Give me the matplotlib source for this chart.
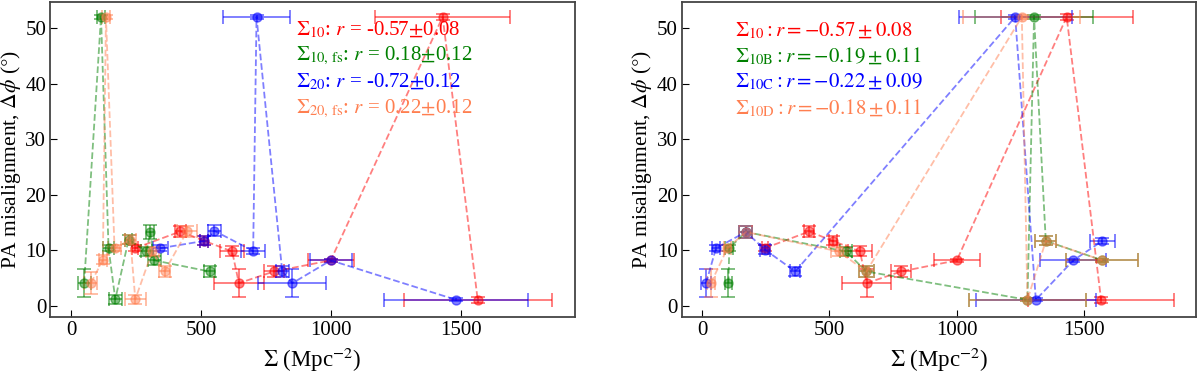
import matplotlib
matplotlib.use("Agg")
import matplotlib.pyplot as plt

plt.rcParams['font.family'] = ['Liberation Serif', 'DejaVu Serif']
plt.rcParams['mathtext.fontset'] = 'stix'

# Sigma_10 (shared by both panels)
s10_x = [247, 421, 513, 620, 646, 781, 1000, 1431, 1566]
s10_y = [10.4, 13.4, 11.7, 9.8, 4.1, 6.2, 8.2, 52.0, 1.1]
s10_xerr = [12, 20, 15, 46, 97, 38, 89, 259, 285]
s10_yerr = [0.5, 1.0, 0.8, 0.9, 2.5, 1.0, 0.3, 0.5, 0.5]

# left panel: fixed-size and 20th-neighbour versions
s10fs_x = [50, 115, 144, 170, 221, 290, 305, 320, 533]
s10fs_y = [4.1, 52.0, 10.4, 1.2, 11.9, 9.8, 13.3, 8.2, 6.2]
s10fs_xerr = [25, 15, 20, 25, 15, 20, 15, 25, 20]
s10fs_yerr = [2.5, 0.3, 0.6, 0.8, 0.8, 0.8, 1.3, 0.8, 1.0]

s20_x = [344, 513, 552, 701, 714, 813, 852, 1000, 1483]
s20_y = [10.4, 11.7, 13.5, 9.9, 52.0, 6.2, 4.1, 8.2, 1.1]
s20_xerr = [30, 15, 25, 45, 128, 25, 131, 80, 277]
s20_yerr = [0.5, 0.8, 1.0, 0.5, 0.3, 1.0, 2.5, 0.3, 0.3]

s20fs_x = [76, 122, 134, 167, 228, 247, 312, 360, 446]
s20fs_y = [4.1, 8.3, 52.0, 10.4, 11.9, 1.2, 9.8, 6.2, 13.4]
s20fs_xerr = [25, 15, 15, 25, 20, 40, 25, 20, 40]
s20fs_yerr = [2.0, 0.8, 0.3, 0.6, 0.8, 0.8, 0.8, 1.0, 1.0]

# right panel: B, C, D variants
s10b_x = [104, 107, 172, 565, 645, 1277, 1303, 1349, 1571]
s10b_y = [4.1, 10.4, 13.3, 9.8, 6.2, 1.1, 52.0, 11.7, 8.2]
s10b_xerr = [15, 15, 25, 25, 30, 231, 231, 42, 141]
s10b_yerr = [2.5, 0.6, 1.0, 0.8, 1.0, 0.3, 0.3, 0.8, 0.3]

s10c_x = [16, 55, 172, 248, 366, 1229, 1310, 1457, 1571]
s10c_y = [4.1, 10.4, 13.3, 10.1, 6.2, 52.0, 1.1, 8.2, 11.7]
s10c_xerr = [20, 15, 25, 20, 20, 222, 236, 129, 48]
s10c_yerr = [2.5, 0.6, 1.0, 0.8, 0.8, 0.3, 0.3, 0.3, 0.6]

s10d_x = [35, 100, 172, 536, 645, 1255, 1277, 1349, 1571]
s10d_y = [4.1, 10.4, 13.3, 9.8, 6.2, 52.0, 1.1, 11.7, 8.2]
s10d_xerr = [15, 15, 25, 30, 30, 230, 231, 42, 141]
s10d_yerr = [2.5, 0.6, 1.0, 0.8, 1.0, 0.3, 0.3, 0.8, 0.3]

left_series = [
    (s10_x, s10_y, s10_xerr, s10_yerr, 'red', r'$\Sigma_{10}$: $r$ = -0.57$\pm$0.08'),
    (s10fs_x, s10fs_y, s10fs_xerr, s10fs_yerr, 'green', r'$\Sigma_{10,\,\mathrm{fs}}$: $r$ = 0.18$\pm$0.12'),
    (s20_x, s20_y, s20_xerr, s20_yerr, 'blue', r'$\Sigma_{20}$: $r$ = -0.72$\pm$0.12'),
    (s20fs_x, s20fs_y, s20fs_xerr, s20fs_yerr, 'coral', r'$\Sigma_{20,\,\mathrm{fs}}$: $r$ = 0.22$\pm$0.12'),
]
right_series = [
    (s10_x, s10_y, s10_xerr, s10_yerr, 'red', r'$\Sigma_{10}:r=-0.57\pm0.08$'),
    (s10b_x, s10b_y, s10b_xerr, s10b_yerr, 'green', r'$\Sigma_{10\mathrm{B}}:r=-0.19\pm0.11$'),
    (s10c_x, s10c_y, s10c_xerr, s10c_yerr, 'blue', r'$\Sigma_{10\mathrm{C}}:r=-0.22\pm0.09$'),
    (s10d_x, s10d_y, s10d_xerr, s10d_yerr, 'coral', r'$\Sigma_{10\mathrm{D}}:r=-0.18\pm0.11$'),
]

fig = plt.figure(figsize=(12, 3.82), dpi=100)
ax1 = fig.add_axes([0.042, 0.170, 0.437, 0.825])
ax2 = fig.add_axes([0.568, 0.170, 0.429, 0.825])


def draw_panel(ax, series, text_x):
    for i, (x, y, xe, ye, c, label) in enumerate(series):
        ax.errorbar(x, y, xerr=xe, yerr=ye, fmt='o', color=c, alpha=0.5,
                    ms=6.5, capsize=5, elinewidth=1.4, capthick=1.4,
                    linestyle='--', lw=1.3)
        ax.text(text_x, 0.91 - i * 0.083, label, color=c, fontsize=15,
                transform=ax.transAxes, va='center')
    ax.set_xlim(-80, 1940)
    ax.set_ylim(-2, 54.7)
    ax.set_xticks([0, 500, 1000, 1500])
    ax.set_yticks([0, 10, 20, 30, 40, 50])
    ax.tick_params(direction='in', labelsize=15, length=5, pad=3)
    ax.set_xlabel(r'$\Sigma$ (Mpc$^{-2}$)', fontsize=16.5)
    ax.set_ylabel(r'PA misalignment, $\Delta\phi$ ($\degree$)', fontsize=15.5,
                  labelpad=2)
    for sp in ax.spines.values():
        sp.set_color('#444444')
        sp.set_linewidth(1.3)


draw_panel(ax1, left_series, 0.468)
draw_panel(ax2, right_series, 0.103)

fig.savefig('out.png', dpi=100)
